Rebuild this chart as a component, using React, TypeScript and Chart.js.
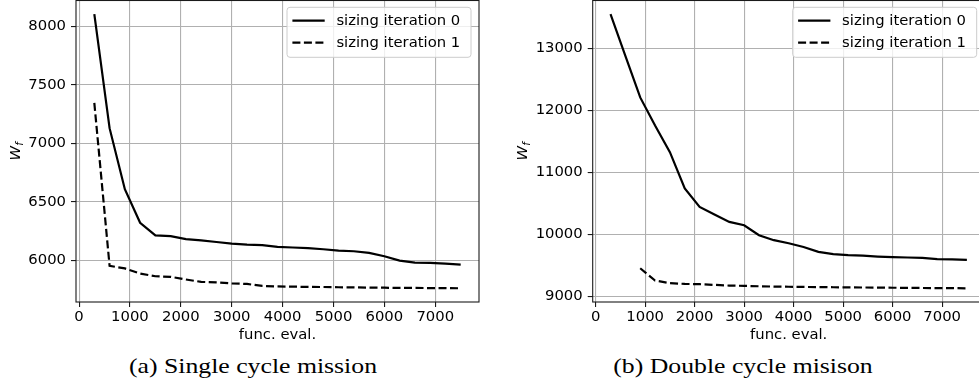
import React, { useEffect, useRef } from 'react';
import { Chart, registerables } from 'chart.js';

Chart.register(...registerables);

// ---------- data ----------
const evals = [300, 600, 900, 1200, 1500, 1800, 2100, 2400, 2700, 3000, 3300, 3600, 3900, 4200, 4500, 4800, 5100, 5400, 5700, 6000, 6300, 6600, 6900, 7200, 7500];

const singleIter0 = [8105, 7130, 6608, 6321, 6213, 6207, 6181, 6170, 6156, 6143, 6134, 6129, 6114, 6109, 6103, 6094, 6083, 6077, 6063, 6034, 5997, 5980, 5977, 5971, 5963];
const singleIter1 = [7346, 5952, 5930, 5886, 5863, 5858, 5835, 5815, 5810, 5802, 5797, 5780, 5776, 5774, 5772, 5771, 5769, 5768, 5766, 5765, 5763, 5763, 5762, 5762, 5760];

const doubleEvals1 = [900, 1200, 1500, 1800, 2100, 2400, 2700, 3000, 3300, 3600, 3900, 4200, 4500, 4800, 5100, 5400, 5700, 6000, 6300, 6600, 6900, 7200, 7500];
const doubleIter0 = [13553, 12880, 12211, 11758, 11329, 10742, 10446, 10322, 10204, 10150, 9989, 9909, 9860, 9800, 9720, 9683, 9667, 9660, 9645, 9635, 9630, 9622, 9605, 9600, 9590];
const doubleIter1 = [9456, 9258, 9215, 9204, 9199, 9188, 9177, 9172, 9166, 9161, 9158, 9155, 9152, 9150, 9148, 9146, 9144, 9142, 9140, 9138, 9136, 9135, 9133];

const xTicks = [0, 1000, 2000, 3000, 4000, 5000, 6000, 7000];
const singleYTicks = [6000, 6500, 7000, 7500, 8000];
const doubleYTicks = [9000, 10000, 11000, 12000, 13000];

const seriesLabels = ['sizing iteration 0', 'sizing iteration 1'];
const xTitle = 'func. eval.';
const captions = ['(a) Single cycle mission', '(b) Double cycle misison'];

// ---------- helpers ----------
const FONT = 'DejaVu Sans';
const FS = 14.8;

function padRange(arrs: number[][]): [number, number] {
  let lo = Infinity, hi = -Infinity;
  arrs.forEach(a => a.forEach(v => { lo = Math.min(lo, v); hi = Math.max(hi, v); }));
  const m = (hi - lo) * 0.05;
  return [lo - m, hi + m];
}

type Series = { label: string; x: number[]; y: number[]; dash: number[] };

type PanelProps = {
  left: number;
  width: number;
  height: number;
  plotLeft: number;
  plotRight: number;
  plotTop: number;
  plotBottom: number;
  yTitleX: number;
  series: Series[];
  yTicks: number[];
};

const decorPlugin = {
  id: 'decor',
  afterDraw(chart: any, _args: any, opts: any) {
    const { ctx, chartArea: a } = chart;
    ctx.save();
    // frame
    ctx.strokeStyle = '#1a1a1a';
    ctx.lineWidth = 1.1;
    ctx.strokeRect(a.left, a.top, a.right - a.left, a.bottom - a.top);

    // legend
    const boxW = 184;
    const boxH = 50;
    const bx = a.right - 8 - boxW;
    const by = a.top + 6.8;
    const r = 3;
    ctx.beginPath();
    ctx.moveTo(bx + r, by);
    ctx.lineTo(bx + boxW - r, by);
    ctx.arcTo(bx + boxW, by, bx + boxW, by + r, r);
    ctx.lineTo(bx + boxW, by + boxH - r);
    ctx.arcTo(bx + boxW, by + boxH, bx + boxW - r, by + boxH, r);
    ctx.lineTo(bx + r, by + boxH);
    ctx.arcTo(bx, by + boxH, bx, by + boxH - r, r);
    ctx.lineTo(bx, by + r);
    ctx.arcTo(bx, by, bx + r, by, r);
    ctx.closePath();
    ctx.fillStyle = 'rgba(255,255,255,0.8)';
    ctx.fill();
    ctx.strokeStyle = '#cccccc';
    ctx.lineWidth = 1;
    ctx.stroke();

    ctx.font = `${FS}px "${FONT}"`;
    ctx.textBaseline = 'middle';
    ctx.textAlign = 'left';
    chart.data.datasets.forEach((ds: any, i: number) => {
      const cy = by + 13.4 + i * 22;
      ctx.beginPath();
      ctx.setLineDash(ds.borderDash || []);
      ctx.strokeStyle = '#000';
      ctx.lineWidth = 2.2;
      ctx.moveTo(bx + 5.4, cy);
      ctx.lineTo(bx + 37.7, cy);
      ctx.stroke();
      ctx.setLineDash([]);
      ctx.fillStyle = '#000';
      ctx.fillText(ds.label, bx + 49.4, cy);
    });

    // y title W_f (rotated, with subscript)
    const cx = opts.yTitleX;
    const cyT = (a.top + a.bottom) / 2;
    ctx.translate(cx, cyT);
    ctx.rotate(-Math.PI / 2);
    const mainFont = `italic ${FS}px "${FONT}"`;
    const subFont = `italic ${FS * 0.7}px "${FONT}"`;
    ctx.font = mainFont;
    const wW = ctx.measureText('W').width;
    ctx.font = subFont;
    const fW = ctx.measureText('f').width;
    const total = wW + fW;
    ctx.textBaseline = 'alphabetic';
    ctx.fillStyle = '#000';
    ctx.font = mainFont;
    ctx.fillText('W', -total / 2, 5);
    ctx.font = subFont;
    ctx.fillText('f', -total / 2 + wW, 8);
    ctx.restore();
  },
};

function Panel(p: PanelProps) {
  const ref = useRef<HTMLCanvasElement | null>(null);
  useEffect(() => {
    if (!ref.current) return;
    const [xMin, xMax] = padRange(p.series.map(s => s.x));
    const [yMin, yMax] = padRange(p.series.map(s => s.y));
    const chart = new Chart(ref.current, {
      type: 'line',
      data: {
        datasets: p.series.map(s => ({
          label: s.label,
          data: s.x.map((x, i) => ({ x, y: s.y[i] })),
          borderColor: '#000',
          backgroundColor: '#000',
          borderWidth: 2.2,
          borderDash: s.dash,
          pointRadius: 0,
          tension: 0,
          fill: false,
        })),
      },
      options: {
        animation: false,
        responsive: false,
        events: [],
        layout: {
          padding: {
            left: 0,
            top: p.plotTop,
            right: p.width - p.plotRight,
            bottom: 0,
          },
        },
        plugins: {
          legend: { display: false },
          tooltip: { enabled: false },
          decor: { yTitleX: p.yTitleX },
        } as any,
        scales: {
          x: {
            type: 'linear',
            min: xMin,
            max: xMax,
            afterBuildTicks: (s: any) => { s.ticks = xTicks.map(v => ({ value: v })); },
            afterFit: (s: any) => {
              s.height = p.height - p.plotBottom;
              s.paddingLeft = 0;
              s.paddingRight = 0;
              s.paddingTop = 0;
              s.paddingBottom = 0;
            },
            ticks: {
              font: { family: FONT, size: FS },
              color: '#000',
              padding: 1,
              maxRotation: 0,
              autoSkip: false,
              callback: (v: any) => String(v),
            },
            grid: {
              color: '#b0b0b0',
              lineWidth: 1.1,
              tickColor: '#1a1a1a',
              tickLength: 5,
              tickWidth: 1.1,
              drawTicks: true,
            },
            border: { display: false },
            title: {
              display: true,
              text: xTitle,
              font: { family: FONT, size: FS },
              color: '#000',
              padding: { top: 0, bottom: 6 },
            },
          },
          y: {
            type: 'linear',
            min: yMin,
            max: yMax,
            afterBuildTicks: (s: any) => { s.ticks = p.yTicks.map(v => ({ value: v })); },
            afterFit: (s: any) => {
              s.width = p.plotLeft;
              s.paddingLeft = 0;
              s.paddingRight = 0;
              s.paddingTop = 0;
              s.paddingBottom = 0;
            },
            ticks: {
              font: { family: FONT, size: FS },
              color: '#000',
              padding: 5,
              autoSkip: false,
              callback: (v: any) => String(v),
            },
            grid: {
              color: '#b0b0b0',
              lineWidth: 1.1,
              tickColor: '#1a1a1a',
              tickLength: 5,
              tickWidth: 1.1,
              drawTicks: true,
            },
            border: { display: false },
          },
        },
      },
      plugins: [decorPlugin],
    });
    return () => chart.destroy();
  }, []);
  return (
    <canvas
      ref={ref}
      width={p.width}
      height={p.height}
      style={{ position: 'absolute', left: p.left, top: 0, width: p.width, height: p.height }}
    />
  );
}

const captionStyle = (center: number): React.CSSProperties => ({
  position: 'absolute',
  left: center - 200,
  width: 400,
  top: 355,
  textAlign: 'center',
  fontFamily: '"Liberation Serif", serif',
  fontSize: 22,
  lineHeight: '22px',
  color: '#000',
  transform: 'scaleX(1.17)',
  transformOrigin: 'center',
  whiteSpace: 'nowrap',
});

export default function App() {
  return (
    <div
      style={{
        position: 'fixed',
        left: 0,
        top: 0,
        width: 979,
        height: 388,
        overflow: 'hidden',
        background: '#fff',
      }}
    >
      <Panel
        left={0}
        width={490}
        height={350}
        plotLeft={76}
        plotRight={479}
        plotTop={0.5}
        plotBottom={302}
        yTitleX={15}
        yTicks={singleYTicks}
        series={[
          { label: seriesLabels[0], x: evals, y: singleIter0, dash: [] },
          { label: seriesLabels[1], x: evals, y: singleIter1, dash: [8, 3.5] },
        ]}
      />
      <Panel
        left={490}
        width={500}
        height={350}
        plotLeft={102.7}
        plotRight={494.7}
        plotTop={0.5}
        plotBottom={302}
        yTitleX={32}
        yTicks={doubleYTicks}
        series={[
          { label: seriesLabels[0], x: evals, y: doubleIter0, dash: [] },
          { label: seriesLabels[1], x: doubleEvals1, y: doubleIter1, dash: [8, 3.5] },
        ]}
      />
      <div style={captionStyle(253)}>{captions[0]}</div>
      <div style={captionStyle(743)}>{captions[1]}</div>
    </div>
  );
}
